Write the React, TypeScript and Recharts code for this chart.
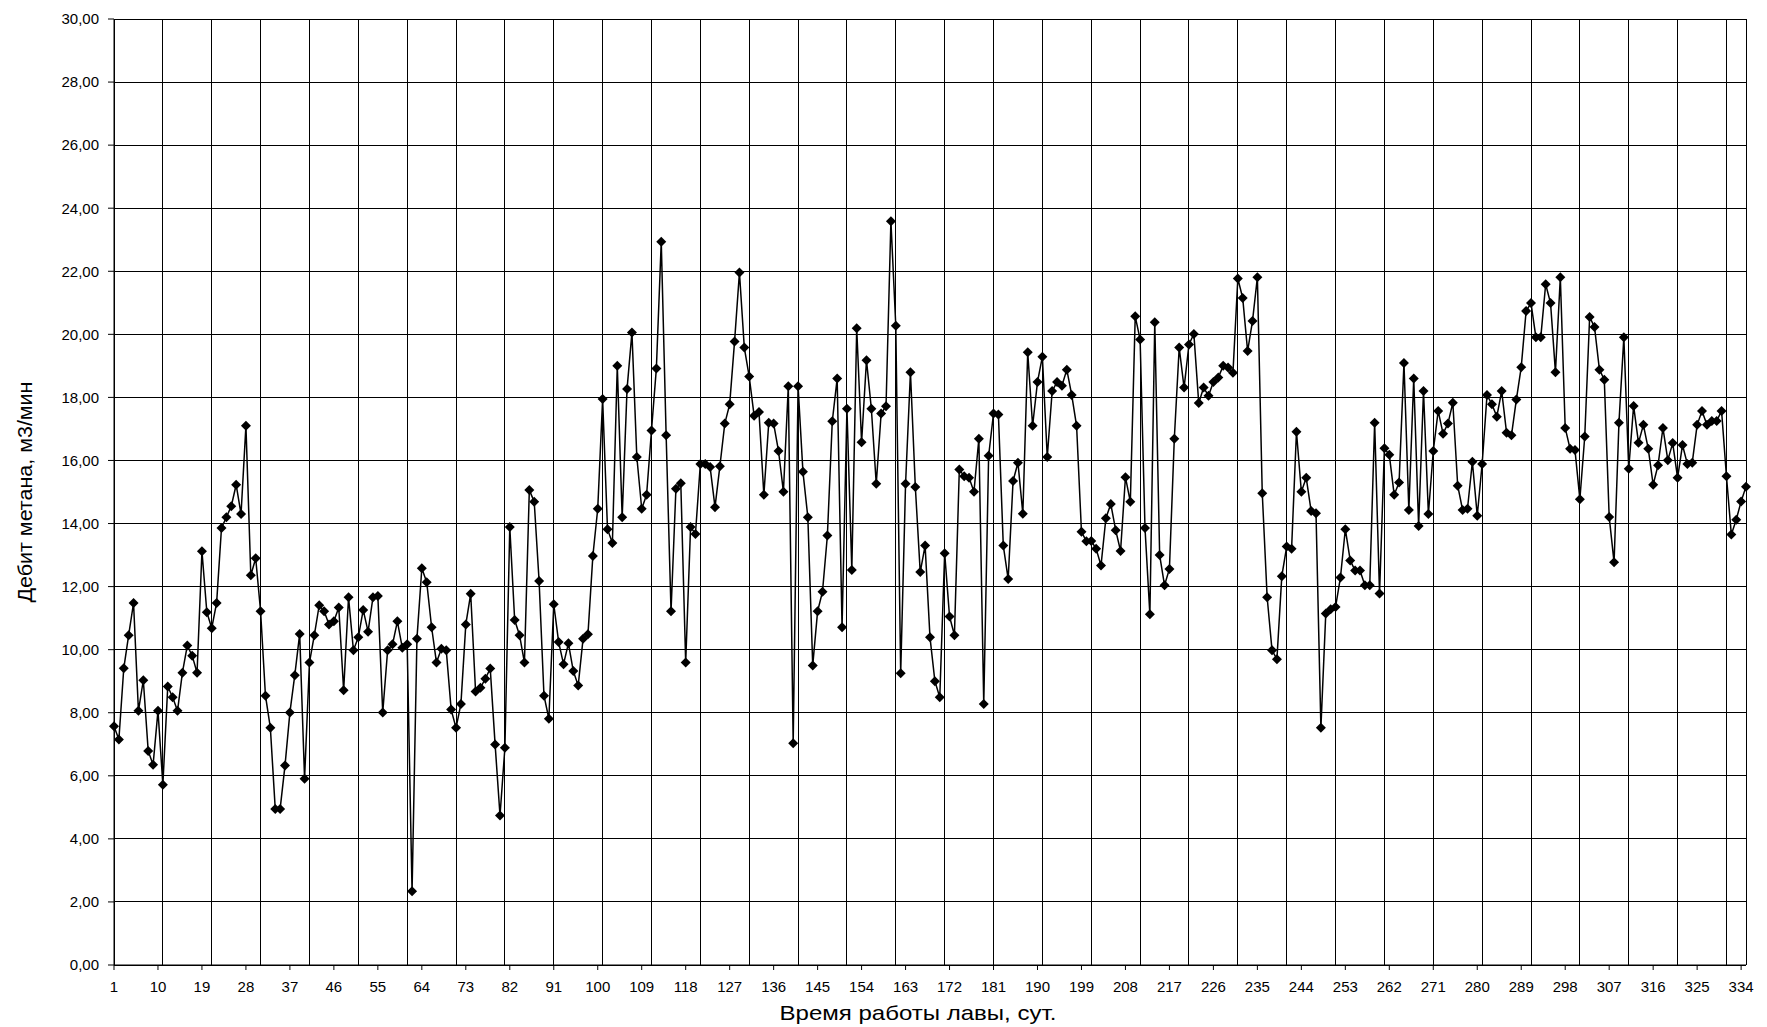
import React from 'react';
import { LineChart, Line, XAxis, YAxis, CartesianGrid } from 'recharts';

// Дебит метана (м3/мин) по суткам работы лавы
const days001to050 = [
  7.57, 7.15, 9.41, 10.46, 11.48, 8.06, 9.03, 6.79, 6.35, 8.06,
  5.72, 8.83, 8.49, 8.06, 9.27, 10.13, 9.81, 9.27, 13.12, 11.19,
  10.68, 11.48, 13.86, 14.2, 14.55, 15.23, 14.3, 17.1, 12.36, 12.9,
  11.22, 8.54, 7.52, 4.95, 4.95, 6.33, 8.01, 9.19, 10.5, 5.91,
  9.59, 10.46, 11.41, 11.22, 10.8, 10.9, 11.34, 8.71, 11.66, 9.98,
];
const days051to100 = [
  10.39, 11.26, 10.57, 11.66, 11.7, 8.01, 9.98, 10.17, 10.9, 10.06,
  10.17, 2.34, 10.35, 12.58, 12.14, 10.71, 9.59, 10.03, 9.98, 8.1,
  7.52, 8.28, 10.8, 11.77, 8.67, 8.79, 9.08, 9.4, 6.99, 4.74,
  6.89, 13.89, 10.94, 10.46, 9.59, 15.06, 14.69, 12.18, 8.54, 7.81,
  11.44, 10.24, 9.54, 10.2, 9.32, 8.86, 10.35, 10.49, 12.97, 14.47,
];
const days101to150 = [
  17.95, 13.82, 13.38, 19.0, 14.2, 18.27, 20.06, 16.11, 14.47, 14.91,
  16.95, 18.92, 22.94, 16.8, 11.22, 15.1, 15.28, 9.59, 13.89, 13.67,
  15.89, 15.89, 15.79, 14.52, 15.82, 17.17, 17.78, 19.77, 21.96, 19.58,
  18.66, 17.42, 17.54, 14.91, 17.2, 17.17, 16.3, 15.01, 18.35, 7.03,
  18.35, 15.64, 14.2, 9.5, 11.22, 11.84, 13.62, 17.24, 18.6, 10.71,
];
const days151to200 = [
  17.64, 12.53, 20.19, 16.58, 19.18, 17.64, 15.26, 17.49, 17.72, 23.59,
  20.27, 9.25, 15.26, 18.8, 15.16, 12.46, 13.3, 10.39, 9.0, 8.49,
  13.06, 11.05, 10.46, 15.71, 15.5, 15.45, 15.01, 16.69, 8.28, 16.15,
  17.49, 17.46, 13.3, 12.24, 15.35, 15.93, 14.31, 19.43, 17.1, 18.49,
  19.29, 16.11, 18.2, 18.49, 18.37, 18.88, 18.08, 17.1, 13.74, 13.44,
];
const days201to250 = [
  13.45, 13.2, 12.67, 14.17, 14.62, 13.79, 13.13, 15.47, 14.69, 20.57,
  19.84, 13.86, 11.12, 20.38, 13.0, 12.04, 12.56, 16.69, 19.58, 18.31,
  19.68, 20.01, 17.82, 18.31, 18.05, 18.49, 18.63, 19.0, 18.95, 18.78,
  21.77, 21.15, 19.47, 20.42, 21.81, 14.96, 11.66, 9.98, 9.7, 12.33,
  13.27, 13.2, 16.91, 15.01, 15.45, 14.4, 14.33, 7.52, 11.15, 11.28,
];
const days251to300 = [
  11.35, 12.29, 13.82, 12.83, 12.51, 12.51, 12.04, 12.04, 17.2, 11.78,
  16.39, 16.18, 14.91, 15.3, 19.09, 14.43, 18.6, 13.92, 18.2, 14.3,
  16.3, 17.57, 16.85, 17.17, 17.83, 15.2, 14.43, 14.47, 15.96, 14.25,
  15.89, 18.08, 17.78, 17.39, 18.2, 16.88, 16.8, 17.93, 18.96, 20.74,
  20.99, 19.91, 19.91, 21.59, 20.99, 18.8, 21.81, 17.03, 16.37, 16.33,
];
const days301to335 = [
  14.77, 16.76, 20.55, 20.23, 18.88, 18.56, 14.21, 12.77, 17.2, 19.91,
  15.74, 17.73, 16.56, 17.13, 16.37, 15.23, 15.85, 17.03, 16.01, 16.55,
  15.45, 16.49, 15.89, 15.93, 17.13, 17.57, 17.13, 17.25, 17.25, 17.57,
  15.5, 13.65, 14.12, 14.7, 15.17,
];

const methane = [
  ...days001to050, ...days051to100, ...days101to150, ...days151to200,
  ...days201to250, ...days251to300, ...days301to335,
];

const xLabelTicks = [
  1, 10, 19, 28, 37, 46, 55, 64, 73, 82, 91, 100, 109, 118, 127, 136, 145, 154, 163,
  172, 181, 190, 199, 208, 217, 226, 235, 244, 253, 262, 271, 280, 289, 298, 307, 316, 325, 334,
];
const gridDays = [
  1, 11, 21, 31, 41, 51, 61, 71, 81, 91, 101, 111, 121, 131, 141, 151, 161, 171, 181,
  191, 201, 211, 221, 231, 241, 251, 261, 271, 281, 291, 301, 311, 321, 331,
];
const yTicks = [0, 2, 4, 6, 8, 10, 12, 14, 16, 18, 20, 22, 24, 26, 28, 30];

const xTitle = 'Время работы лавы, сут.';
const yTitle = 'Дебит метана, м3/мин';

const N = methane.length;
const data = methane.map((v, i) => ({ day: i + 1, value: v }));

const FONT = "'Liberation Sans', Arial, sans-serif";

const Diamond = (props: any) => {
  const { cx, cy } = props;
  if (cx == null || cy == null) return null;
  const w = 5;
  const h = 5;
  return (
    <path
      d={`M${cx},${cy - h}L${cx + w},${cy}L${cx},${cy + h}L${cx - w},${cy}Z`}
      fill="#000"
      stroke="none"
    />
  );
};

const XTick = (props: any) => {
  const { x, y, payload } = props;
  return (
    <text x={x} y={y} dy="0.71em" textAnchor="middle" fill="#000" fontSize={15} fontFamily={FONT}>
      {payload.value}
    </text>
  );
};

const fmt = (v: number) => v.toFixed(2).replace('.', ',');

export default function App() {
  return (
    <div style={{ position: 'absolute', left: 0, top: 0, width: 1767, height: 1027, background: '#fff' }}>
      <LineChart width={1767} height={1027} data={data} margin={{ top: 19, right: 21, bottom: 0, left: 0 }}>
        <CartesianGrid
          stroke="#000"
          strokeWidth={1}
          shapeRendering="crispEdges"
          verticalCoordinatesGenerator={(args: any) => {
            const { xAxis, offset } = args || {};
            const sc = xAxis && xAxis.scale;
            const vals = [...gridDays, N];
            return vals.map((d) =>
              typeof sc === 'function' ? sc(d) : offset.left + ((d - 1) / (N - 1)) * offset.width
            );
          }}
        />
        <XAxis
          dataKey="day"
          type="number"
          domain={[1, N]}
          ticks={xLabelTicks}
          interval={0}
          height={62}
          axisLine={{ stroke: '#000', strokeWidth: 1 }}
          tickLine={{ stroke: '#000' }}
          tickSize={5}
          tickMargin={11}
          tick={<XTick />}
        />
        <YAxis
          type="number"
          domain={[0, 30]}
          ticks={yTicks}
          interval={0}
          width={114}
          tickFormatter={fmt}
          axisLine={{ stroke: '#000', strokeWidth: 1 }}
          tickLine={{ stroke: '#000' }}
          tickSize={6}
          tickMargin={9}
          tick={{ fill: '#000', fontSize: 15, fontFamily: FONT }}
        />
        <Line
          type="linear"
          dataKey="value"
          stroke="#000"
          strokeWidth={1.5}
          dot={<Diamond />}
          activeDot={false}
          isAnimationActive={false}
        />
      </LineChart>
      <svg
        width={1767}
        height={1027}
        style={{ position: 'absolute', left: 0, top: 0, pointerEvents: 'none' }}
      >
        <text
          x={918}
          y={1020}
          textAnchor="middle"
          fill="#000"
          fontSize={21}
          fontFamily={FONT}
          textLength={277}
          lengthAdjust="spacingAndGlyphs"
        >
          {xTitle}
        </text>
        <text
          x={0}
          y={0}
          transform="translate(32,492) rotate(-90)"
          textAnchor="middle"
          fill="#000"
          fontSize={21}
          fontFamily={FONT}
          textLength={221}
          lengthAdjust="spacingAndGlyphs"
        >
          {yTitle}
        </text>
      </svg>
    </div>
  );
}
